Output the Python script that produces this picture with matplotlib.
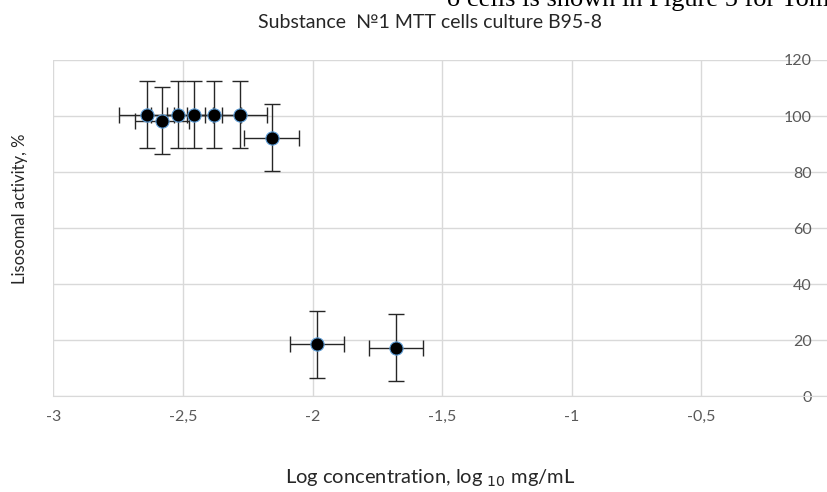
import numpy as np
import matplotlib
matplotlib.use("Agg")
import matplotlib.pyplot as plt
from matplotlib.ticker import FuncFormatter

# data (log10 mg/mL vs lysosomal activity %)
log_conc = [-2.64, -2.58, -2.52, -2.456, -2.38, -2.28, -2.158, -1.982, -1.678]
activity = [100.4, 98.3, 100.4, 100.4, 100.4, 100.4, 92.2, 18.4, 17.2]
y_err = [12, 12, 12, 12, 12, 12, 12, 12, 12]
x_err = [0.105, 0.105, 0.105, 0.105, 0.105, 0.105, 0.105, 0.105, 0.105]

x_ticks = [-3, -2.5, -2, -1.5, -1, -0.5, 0]
y_ticks = [0, 20, 40, 60, 80, 100, 120]

plt.rcParams['font.family'] = ['Lato', 'DejaVu Sans']

fig = plt.figure(figsize=(8.28, 4.92), dpi=100)
ax = fig.add_axes([53.3 / 828, 96 / 492, (831 - 53.3) / 828, 336 / 492])

ax.errorbar(log_conc, activity, yerr=y_err, xerr=x_err, fmt='none',
            ecolor='#262626', elinewidth=1.0, capsize=5.5, capthick=1.0, zorder=3)
ax.plot(log_conc, activity, 'o', color='black', markersize=9.5,
        markeredgecolor='#5b9bd5', markeredgewidth=0.8, zorder=4)

ax.set_xlim(-3, 0)
ax.set_ylim(0, 120)
ax.set_xticks(x_ticks)
ax.set_yticks(y_ticks)
ax.xaxis.set_major_formatter(FuncFormatter(lambda v, p: ('%g' % v).replace('.', ',')))
ax.grid(True, color='#d9d9d9', linewidth=1.0)
ax.set_axisbelow(True)

for s in ['top', 'right']:
    ax.spines[s].set_visible(False)
ax.spines['bottom'].set_color('#d9d9d9')
ax.spines['left'].set_position(('data', 0))
ax.spines['left'].set_visible(False)
ax.tick_params(axis='both', length=0, labelsize=11.5, labelcolor='#595959')
ax.tick_params(axis='x', pad=10)
ax.tick_params(axis='y', pad=14)

fig.text(430 / 828, 1 - 23 / 492, 'Substance  \u21161 MTT cells culture B95-8',
         ha='center', va='center', fontsize=14, color='#262626')
fig.text(430 / 828, 1 - 478 / 492, 'Log concentration, log $_{10}$ mg/mL',
         ha='center', va='center', fontsize=14.5, color='#262626')
fig.text(20 / 828, 1 - 209 / 492, 'Lisosomal activity, %', rotation=90,
         ha='center', va='center', fontsize=12, color='#262626')
# clipped line of document text above the chart
fig.text(447 / 828, 1 - 6 / 492, 'o cells is shown in Figure 5 for Tom',
         ha='left', va='baseline', fontsize=19, family='Liberation Serif', color='black')

fig.savefig('out.png', dpi=100)
